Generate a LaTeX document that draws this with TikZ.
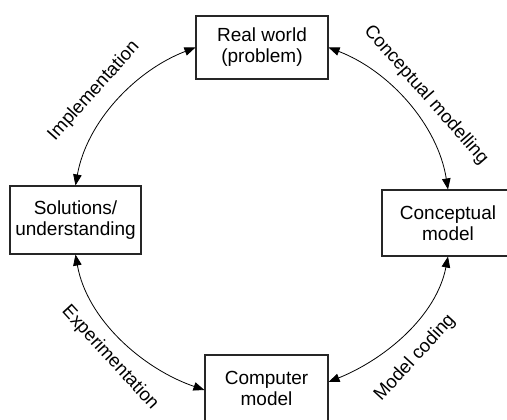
\documentclass[tikz,border=0pt]{standalone}
\usepackage{fontspec}
\setmainfont{Liberation Sans}
\usetikzlibrary{arrows.meta}
\begin{document}
\begin{tikzpicture}[x=1pt,y=1pt,
  box/.style={draw=black!85, line width=1.1pt, inner sep=0pt, align=center,
    font=\fontsize{19}{21}\selectfont},
  arr/.style={line width=0.8pt, {Triangle[length=11pt,width=8.5pt]}-{Triangle[length=11pt,width=8.5pt]}},
  lab/.style={inner sep=0pt, font=\fontsize{18.5}{21}\selectfont}]
\useasboundingbox (0,0) rectangle (507,420);
\node[box, minimum width=132pt, minimum height=63pt] (top) at (262,372.5) {Real world\\(problem)};
\node[box, minimum width=131pt, minimum height=68pt] (left) at (75.5,200) {Solutions/\\understanding};
\node[box, minimum width=132pt, minimum height=66pt] (right) at (448,197) {Conceptual\\model};
\node[box, minimum width=123pt, minimum height=66pt] (bot) at (266.5,32) {Computer\\model};
\draw[arr] (left.north) to[out=80,in=201,looseness=0.9] (top.west);
\draw[arr] (top.east) to[out=-21,in=99,looseness=0.9] (right.north);
\draw[arr] (right.south) to[out=-101,in=22,looseness=0.9] ([yshift=6pt]bot.east);
\draw[arr] (left.south) to[out=-80,in=161,looseness=0.9] ([yshift=-2pt]bot.west);
\node[lab, rotate=48] (l1) at (94,329) {Implementation};
\node[lab, rotate=-48.6] (l2) at (426,325) {Conceptual modelling};
\node[lab, rotate=-47.5] (l3) at (110,62) {Experimentation};
\node[lab, rotate=47.5] (l4) at (415,62) {Model coding};
\end{tikzpicture}
\end{document}
